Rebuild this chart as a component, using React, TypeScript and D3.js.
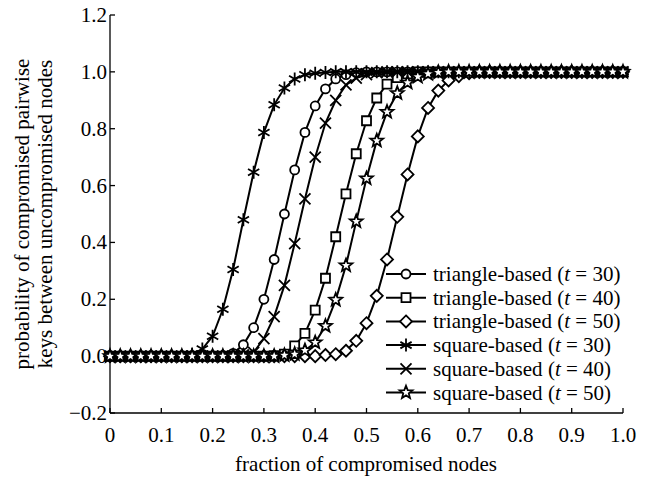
import React from "react";
import * as d3 from "d3";

const fractions = [0,0.02,0.04,0.06,0.08,0.1,0.12,0.14,0.16,0.18,0.2,0.22,0.24,0.26,0.28,0.3,0.32,0.34,0.36,0.38,0.4,0.42,0.44,0.46,0.48,0.5,0.52,0.54,0.56,0.58,0.6,0.62,0.64,0.66,0.68,0.7,0.72,0.74,0.76,0.78,0.8,0.82,0.84,0.86,0.88,0.9,0.92,0.94,0.96,0.98,1];

const triangle30 = [0,0,0,0,0,0,0,0,0,0,0,0.002,0.01,0.04,0.1,0.2,0.34,0.5,0.655,0.787,0.88,0.94,0.975,0.99,0.997,1,1,1,1,1,1,1,1,1,1,1,1,1,1,1,1,1,1,1,1,1,1,1,1,1,1];
const triangle40 = [0,0,0,0,0,0,0,0,0,0,0,0,0,0,0,0,0.002,0.007,0.036,0.08,0.162,0.274,0.42,0.571,0.712,0.828,0.908,0.957,0.98,0.993,1,1,1,1,1,1,1,1,1,1,1,1,1,1,1,1,1,1,1,1,1];
const triangle50 = [0,0,0,0,0,0,0,0,0,0,0,0,0,0,0,0,0,0,0,0,0,0.004,0.007,0.019,0.054,0.116,0.212,0.34,0.49,0.639,0.773,0.873,0.934,0.97,0.985,0.995,1,1,1,1,1,1,1,1,1,1,1,1,1,1,1];
const square30 = [0,0,0,0,0,0,0,0,0.007,0.025,0.07,0.165,0.305,0.48,0.647,0.787,0.884,0.943,0.975,0.99,0.995,0.998,1,1,1,1,1,1,1,1,1,1,1,1,1,1,1,1,1,1,1,1,1,1,1,1,1,1,1,1,1];
const square40 = [0,0,0,0,0,0,0,0,0,0,0,0,0,0.004,0.013,0.062,0.139,0.249,0.396,0.553,0.7,0.82,0.9,0.954,0.978,0.99,0.997,1,1,1,1,1,1,1,1,1,1,1,1,1,1,1,1,1,1,1,1,1,1,1,1];
const square50 = [0,0,0,0,0,0,0,0,0,0,0,0,0,0,0,0,0,0.003,0.007,0.02,0.048,0.106,0.198,0.319,0.474,0.625,0.758,0.859,0.925,0.962,0.983,0.993,0.998,1,1,1,1,1,1,1,1,1,1,1,1,1,1,1,1,1,1];

const seriesNames = ["triangle-based", "triangle-based", "triangle-based", "square-based", "square-based", "square-based"];
const seriesT = ["30", "40", "50", "30", "40", "50"];
const seriesValues = [triangle30, triangle40, triangle50, square30, square40, square50];
const seriesMarkers = ["circle", "square", "diamond", "asterisk", "times", "star"];

const xTicks = [0, 0.1, 0.2, 0.3, 0.4, 0.5, 0.6, 0.7, 0.8, 0.9, 1.0];
const xTickLabels = ["0", "0.1", "0.2", "0.3", "0.4", "0.5", "0.6", "0.7", "0.8", "0.9", "1.0"];
const yTicks = [-0.2, 0, 0.2, 0.4, 0.6, 0.8, 1.0, 1.2];
const yTickLabels = ["\u22120.2", "0.0", "0.2", "0.4", "0.6", "0.8", "1.0", "1.2"];

const FONT = '"Liberation Serif", "Times New Roman", "DejaVu Serif", serif';
const FS = 21;
const textStyle = { fontFamily: FONT, fontSize: FS + "px" };

function markerPath(kind: string): string {
  switch (kind) {
    case "circle": {
      const p = d3.path();
      p.arc(0, 0, 4.5, 0, Math.PI * 2);
      p.closePath();
      return p.toString();
    }
    case "square":
      return "M-4.5,-4.5H4.5V4.5H-4.5Z";
    case "diamond":
      return "M0,-6L6,0L0,6L-6,0Z";
    case "asterisk": {
      const r = 6.5;
      const a = r * Math.cos(Math.PI / 6);
      const b = r * Math.sin(Math.PI / 6);
      return `M0,${-r}V${r}M${-a},${-b}L${a},${b}M${-a},${b}L${a},${-b}`;
    }
    case "times": {
      const r = 5.5;
      return `M${-r},${-r}L${r},${r}M${-r},${r}L${r},${-r}`;
    }
    case "star": {
      const pts: string[] = [];
      for (let i = 0; i < 10; i++) {
        const rr = i % 2 === 0 ? 6.8 : 2.9;
        const ang = -Math.PI / 2 + (i * Math.PI) / 5;
        pts.push(`${(rr * Math.cos(ang)).toFixed(2)},${(rr * Math.sin(ang)).toFixed(2)}`);
      }
      return "M" + pts.join("L") + "Z";
    }
  }
  return "";
}

export default function App() {
  const width = 649;
  const height = 477;
  const x = d3.scaleLinear().domain([0, 1]).range([110, 623]);
  const y = d3.scaleLinear().domain([-0.2, 1.2]).range([413, 15]);
  const line = d3
    .line<number>()
    .x((_, i) => x(fractions[i]))
    .y((d) => y(d));

  const legendX0 = 386;
  const legendX1 = 426;
  const legendY0 = 274;
  const legendDy = 23.7;

  return (
    <svg
      width={width}
      height={height}
      style={{ position: "absolute", left: 0, top: 0, background: "#fff" }}
    >
      <rect x={0} y={0} width={width} height={height} fill="#fff" />
      {/* axes */}
      <line x1={x(0)} x2={x(0)} y1={y(1.2)} y2={y(-0.2)} stroke="#000" strokeWidth={1.3} />
      <line x1={x(0)} x2={x(1)} y1={y(-0.2)} y2={y(-0.2)} stroke="#000" strokeWidth={1.3} />
      {yTicks.map((t, i) => (
        <g key={"yt" + i}>
          <line x1={x(0)} x2={x(0) + 5} y1={y(t)} y2={y(t)} stroke="#000" strokeWidth={1.3} />
          <text x={x(0) - 3} y={y(t) + 7} textAnchor="end" style={textStyle}>
            {yTickLabels[i]}
          </text>
        </g>
      ))}
      {xTicks.map((t, i) => (
        <g key={"xt" + i}>
          <line x1={x(t)} x2={x(t)} y1={y(-0.2)} y2={y(-0.2) - 5} stroke="#000" strokeWidth={1.3} />
          <text x={x(t)} y={442} textAnchor="middle" style={textStyle}>
            {xTickLabels[i]}
          </text>
        </g>
      ))}
      <text x={366} y={471} textAnchor="middle" style={textStyle}>
        fraction of compromised nodes
      </text>
      <text transform="translate(29,214) rotate(-90)" textAnchor="middle" style={textStyle}>
        probability of compromised pairwise
      </text>
      <text transform="translate(52,214) rotate(-90)" textAnchor="middle" style={textStyle}>
        keys between uncompromised nodes
      </text>

      {/* series */}
      {seriesValues.map((vals, si) => (
        <g key={"s" + si}>
          <path d={line(vals) || ""} fill="none" stroke="#000" strokeWidth={2} />
          {vals.map((v, i) => (
            <path
              key={i}
              d={markerPath(seriesMarkers[si])}
              transform={`translate(${x(fractions[i])},${y(v)})`}
              fill="#fff"
              stroke="#000"
              strokeWidth={1.8}
            />
          ))}
        </g>
      ))}

      {/* legend */}
      {seriesValues.map((_, si) => {
        const ly = legendY0 + si * legendDy;
        return (
          <g key={"lg" + si}>
            <line x1={legendX0} x2={legendX1} y1={ly} y2={ly} stroke="#000" strokeWidth={2} />
            <path
              d={markerPath(seriesMarkers[si])}
              transform={`translate(${(legendX0 + legendX1) / 2},${ly})`}
              fill="#fff"
              stroke="#000"
              strokeWidth={1.8}
            />
            <text x={433} y={ly + 7} style={textStyle}>
              {seriesNames[si]} (<tspan fontStyle="italic">t</tspan> = {seriesT[si]})
            </text>
          </g>
        );
      })}
    </svg>
  );
}
